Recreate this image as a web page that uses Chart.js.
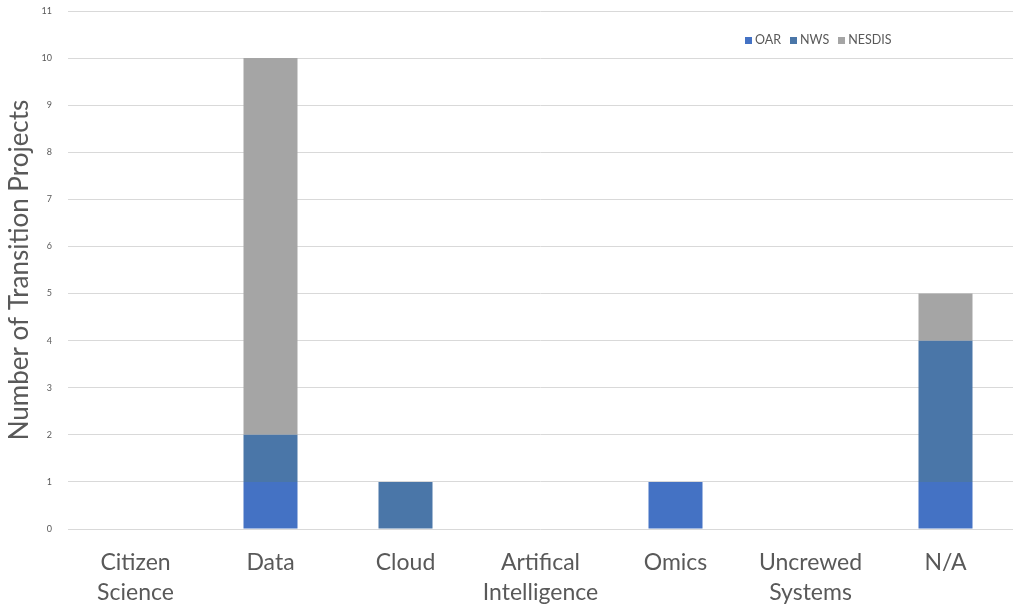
<!DOCTYPE html>
<html>
<head>
<meta charset="utf-8">
<script src="https://cdn.jsdelivr.net/npm/chart.js@4"></script>
<style>
    body { margin: 0; background: #fff; }
    #wrap { position: relative; width: 1013px; height: 610px; }
    #legend {
        position: absolute; left: 745px; top: 32px;
        font: 12.5px Lato, sans-serif; color: #595959;
        display: flex; gap: 9px; align-items: center;
    }
    #legend span.box { display: inline-block; width: 7px; height: 7px; margin-right: 3px; }
</style>
</head>
<body>
<div id="wrap">
    <canvas id="chart" width="1013" height="610"></canvas>
    <div id="legend"></div>
</div>
<script>
const categories = [['Citizen', 'Science'], 'Data', 'Cloud', ['Artifical', 'Intelligence'], 'Omics', ['Uncrewed', 'Systems'], 'N/A'];
const seriesNames = ['OAR', 'NWS', 'NESDIS'];
const oarValues = [0, 1, 0, 0, 1, 0, 1];
const nwsValues = [0, 1, 1, 0, 0, 0, 3];
const nesdisValues = [0, 8, 0, 0, 0, 0, 1];
const seriesColors = ['#4472C4', '#4A76A8', '#A5A5A5'];

const textColor = '#595959';
const gridColor = '#D9D9D9';

const datasets = [oarValues, nwsValues, nesdisValues].map((values, i) => ({
    label: seriesNames[i],
    data: values,
    backgroundColor: seriesColors[i],
    barPercentage: 0.4,
    categoryPercentage: 1.0
}));

new Chart(document.getElementById('chart'), {
    type: 'bar',
    data: { labels: categories, datasets: datasets },
    options: {
        responsive: false,
        animation: false,
        layout: { padding: { top: 11, right: 0, left: 0, bottom: 0 } },
        plugins: {
            legend: { display: false },
            tooltip: { enabled: false }
        },
        scales: {
            x: {
                stacked: true,
                grid: { display: false, drawTicks: false },
                border: { display: false },
                ticks: {
                    color: textColor,
                    padding: 19,
                    maxRotation: 0,
                    autoSkip: false,
                    font: { family: 'Lato', size: 23, lineHeight: 1.3 }
                },
                afterFit: scale => { scale.height = 81; }
            },
            y: {
                stacked: true,
                min: 0,
                max: 11,
                // invisible tick marks give the label gap without padding the top
                grid: { color: gridColor, drawTicks: true, tickLength: 16, tickColor: 'rgba(0,0,0,0)' },
                border: { display: false },
                ticks: {
                    stepSize: 1,
                    color: textColor,
                    padding: 0,
                    font: { family: 'Lato', size: 9 }
                },
                title: {
                    display: true,
                    text: 'Number of Transition Projects',
                    color: textColor,
                    padding: { top: 4, bottom: 0 },
                    font: { family: 'Lato', size: 26, lineHeight: 1.2 }
                },
                afterFit: scale => { scale.width = 68; }
            }
        }
    }
});

// legend drawn as html so it can sit inside the plot like the original
const legend = document.getElementById('legend');
seriesNames.forEach((name, i) => {
    const item = document.createElement('span');
    item.innerHTML = `<span class="box" style="background:${seriesColors[i]}"></span>${name}`;
    legend.appendChild(item);
});
</script>
</body>
</html>
